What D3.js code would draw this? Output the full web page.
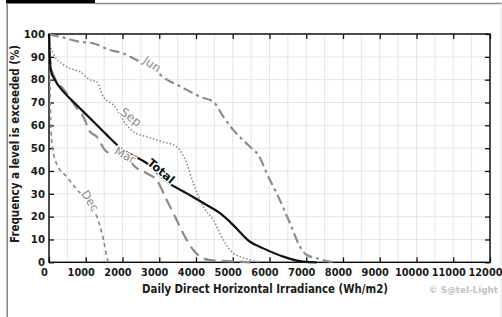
<!DOCTYPE html>
<html><head><meta charset="utf-8">
<script src="https://cdn.jsdelivr.net/npm/d3@7/dist/d3.min.js"></script>
<style>html,body{margin:0;padding:0;background:#fff;}svg{display:block;}</style>
</head><body>
<svg id="c" width="502" height="317"></svg>
<script>
// ---- data ----
const xTickValues = [0,1000,2000,3000,4000,5000,6000,7000,8000,9000,10000,11000,12000];
const yTickValues = [0,10,20,30,40,50,60,70,80,90,100];
const xTitle = "Daily Direct Horizontal Irradiance (Wh/m2)";
const yTitle = "Frequency a level is exceeded (%)";
const credit = "© S@tel-Light";

const totalSeries = [[0,100],[8,95],[27,88],[60,83.5],[136,80.6],[435,74],[661,70.3],[1116,63.1],[1570,55.8],[2014,49.2],[2659,43.4],[3203,35.3],[3747,30.2],[4291,25.1],[4653,21.5],[5015,16.3],[5469,9],[5831,6.1],[6376,2.5],[6920,0.3],[7284,0]];
const junSeries = [[0,100],[100,99.5],[299,98.8],[844,96.6],[1205,95.9],[1660,93],[2022,91.5],[2286,89.4],[2748,85.5],[3293,79.2],[3475,77.8],[3927,74],[4109,72.5],[4471,70.3],[4743,63.8],[5015,58],[5469,50.6],[5695,47],[5967,37.5],[6196,30.2],[6558,17.1],[6830,6.8],[7012,3.2],[7284,1.8],[7646,0.3],[7800,0]];
const sepSeries = [[0,100],[27,95.6],[117,91.5],[389,86.6],[661,84.4],[844,83.5],[1116,79.9],[1298,79.1],[1478,72.5],[1750,68.9],[2114,60.1],[2294,57.2],[2659,55],[3020,53.1],[3475,50.6],[3747,43.4],[3927,34.6],[4199,24.4],[4471,18.5],[4743,9.8],[5015,3.9],[5197,2.5],[5469,1],[5741,0]];
const marSeries = [[0,100],[20,92],[50,86],[150,81],[389,76],[482,74],[754,67.5],[933,63.8],[1116,57.2],[1298,55],[1570,48.4],[1932,47],[2158,45.6],[2294,42.6],[2659,39],[2931,36],[3203,27.3],[3475,18.5],[3747,9.8],[3927,5.4],[4109,2.5],[4381,1],[5197,0.3],[5469,0]];
const decSeries = [[0,100],[15,88],[30,75],[45,62],[70,54],[120,48],[210,43],[482,37.5],[754,32],[1030,27],[1300,20],[1420,14],[1480,10],[1540,5],[1570,2.5],[1620,0]];

const labelNames = ["Jun","Sep","Mar","Total","Dec"];
const labelIrr   = [2803, 2231, 2068, 3048, 1116];
const labelPct   = [86.9, 63.6, 47.0, 40.0, 26.9];

// ---- layout / styles ----
const W = 502, H = 317;
const plot = {l:49, r:490, t:34, b:262.3};
const svg = d3.select("#c");
const x = d3.scaleLinear().domain([0,12000]).range([plot.l, plot.r]);
const y = d3.scaleLinear().domain([0,100]).range([plot.b, plot.t]);
const FONT = "'DejaVu Sans', Verdana, sans-serif";

// outer frame pieces
svg.append("rect").attr("x",6).attr("y",0).attr("width",89).attr("height",3.5).attr("fill","#000");
svg.append("line").attr("x1",95).attr("x2",502).attr("y1",3.5).attr("y2",3.5).attr("stroke","#8a8a8a").attr("stroke-width",1.5);
svg.append("line").attr("x1",7.2).attr("x2",7.2).attr("y1",3).attr("y2",H).attr("stroke","#8a8a8a").attr("stroke-width",1.6);
svg.append("line").attr("x1",501).attr("x2",501).attr("y1",3).attr("y2",H).attr("stroke","#e2e2e2").attr("stroke-width",1);

// grid
const gx = d3.range(500, 12000, 500);
const gy = d3.range(10, 100, 10);
svg.append("g").selectAll("line").data(gx).join("line")
  .attr("x1",d=>x(d)).attr("x2",d=>x(d)).attr("y1",plot.t).attr("y2",plot.b)
  .attr("stroke","#e6e6e6").attr("stroke-width",1);
svg.append("g").selectAll("line").data(gy).join("line")
  .attr("y1",d=>y(d)).attr("y2",d=>y(d)).attr("x1",plot.l).attr("x2",plot.r)
  .attr("stroke","#e6e6e6").attr("stroke-width",1);

// axes with inward ticks
const tl = 5;
const axB = svg.append("g").attr("transform",`translate(0,${plot.b})`)
  .call(d3.axisBottom(x).tickValues(xTickValues).tickSize(-tl).tickPadding(0).tickFormat(""));
const axT = svg.append("g").attr("transform",`translate(0,${plot.t})`)
  .call(d3.axisTop(x).tickValues(xTickValues).tickSize(-tl).tickFormat(""));
const axL = svg.append("g").attr("transform",`translate(${plot.l},0)`)
  .call(d3.axisLeft(y).tickValues(yTickValues).tickSize(-tl).tickFormat(""));
const axR = svg.append("g").attr("transform",`translate(${plot.r},0)`)
  .call(d3.axisRight(y).tickValues(yTickValues).tickSize(-tl).tickFormat(""));
[axB,axT,axL,axR].forEach(a=>{
  a.select(".domain").remove();
  a.selectAll(".tick line").attr("stroke","#111").attr("stroke-width",1.3);
});
// frame
svg.append("rect").attr("x",plot.l).attr("y",plot.t).attr("width",plot.r-plot.l).attr("height",plot.b-plot.t)
  .attr("fill","none").attr("stroke","#111").attr("stroke-width",1.5);

// tick labels
svg.append("g").selectAll("text").data(xTickValues).join("text")
  .attr("x",d=>x(d)-4.5).attr("y",275.7).attr("text-anchor","middle")
  .attr("font-family",FONT).attr("font-weight","bold").attr("font-size",9.8).attr("fill","#1a1a1a")
  .text(d=>d);
svg.append("g").selectAll("text").data(yTickValues).join("text")
  .attr("x",45).attr("y",d=>y(d)+3.7).attr("text-anchor","end")
  .attr("font-family",FONT).attr("font-weight","bold").attr("font-size",10.2).attr("fill","#1a1a1a")
  .text(d=>d);

// titles
svg.append("text").attr("x",265).attr("y",292.7).attr("text-anchor","middle")
  .attr("font-family",FONT).attr("font-weight","bold").attr("font-size",11.5).attr("fill","#1a1a1a")
  .attr("textLength",246).attr("lengthAdjust","spacingAndGlyphs").text(xTitle);
svg.append("text").attr("transform","translate(19,144) rotate(-90)").attr("text-anchor","middle")
  .attr("font-family",FONT).attr("font-weight","bold").attr("font-size",11.5).attr("fill","#1a1a1a")
  .attr("textLength",198).attr("lengthAdjust","spacingAndGlyphs").text(yTitle);
svg.append("text").attr("x",498).attr("y",293).attr("text-anchor","end")
  .attr("font-family",FONT).attr("font-weight","bold").attr("font-size",8.8).attr("fill","#c2c2c2")
  .text(credit);

// series
const line = d3.line().x(d=>x(d[0])).y(d=>y(d[1])).curve(d3.curveMonotoneX);
const styles = [
  {data:junSeries, color:"#8c8c8c", w:2.2, dash:"10,4,3,4"},
  {data:sepSeries, color:"#8c8c8c", w:1.6, dash:"1.5,2"},
  {data:marSeries, color:"#8c8c8c", w:2.2, dash:"12,6"},
  {data:decSeries, color:"#8c8c8c", w:1.7, dash:"4,3.5"},
  {data:totalSeries, color:"#111", w:2.2, dash:null}
];
styles.forEach(s=>{
  svg.append("path").attr("d",line(s.data)).attr("fill","none")
    .attr("stroke",s.color).attr("stroke-width",s.w).attr("stroke-dasharray",s.dash)
    .attr("stroke-linejoin","round");
});

// series labels
const labelAngle = {Jun:34, Sep:36, Mar:28, Total:40, Dec:58};
const labelColor = {Jun:"#8c8c8c", Sep:"#8c8c8c", Mar:"#8c8c8c", Total:"#111", Dec:"#8c8c8c"};
const labelSize = {Jun:12, Sep:12, Mar:11.5, Total:11.5, Dec:11.5};
labelNames.forEach((n,i)=>{
  svg.append("text")
    .attr("transform",`translate(${x(labelIrr[i])},${y(labelPct[i])}) rotate(${labelAngle[n]})`)
    .attr("text-anchor","middle").attr("dy","0.35em")
    .attr("font-family",FONT).attr("font-weight", n==="Total"?"bold":"normal")
    .attr("font-size", labelSize[n]).attr("fill",labelColor[n])
    .attr("stroke","#fff").attr("stroke-width",3).attr("paint-order","stroke")
    .text(n);
});
</script>
</body></html>
